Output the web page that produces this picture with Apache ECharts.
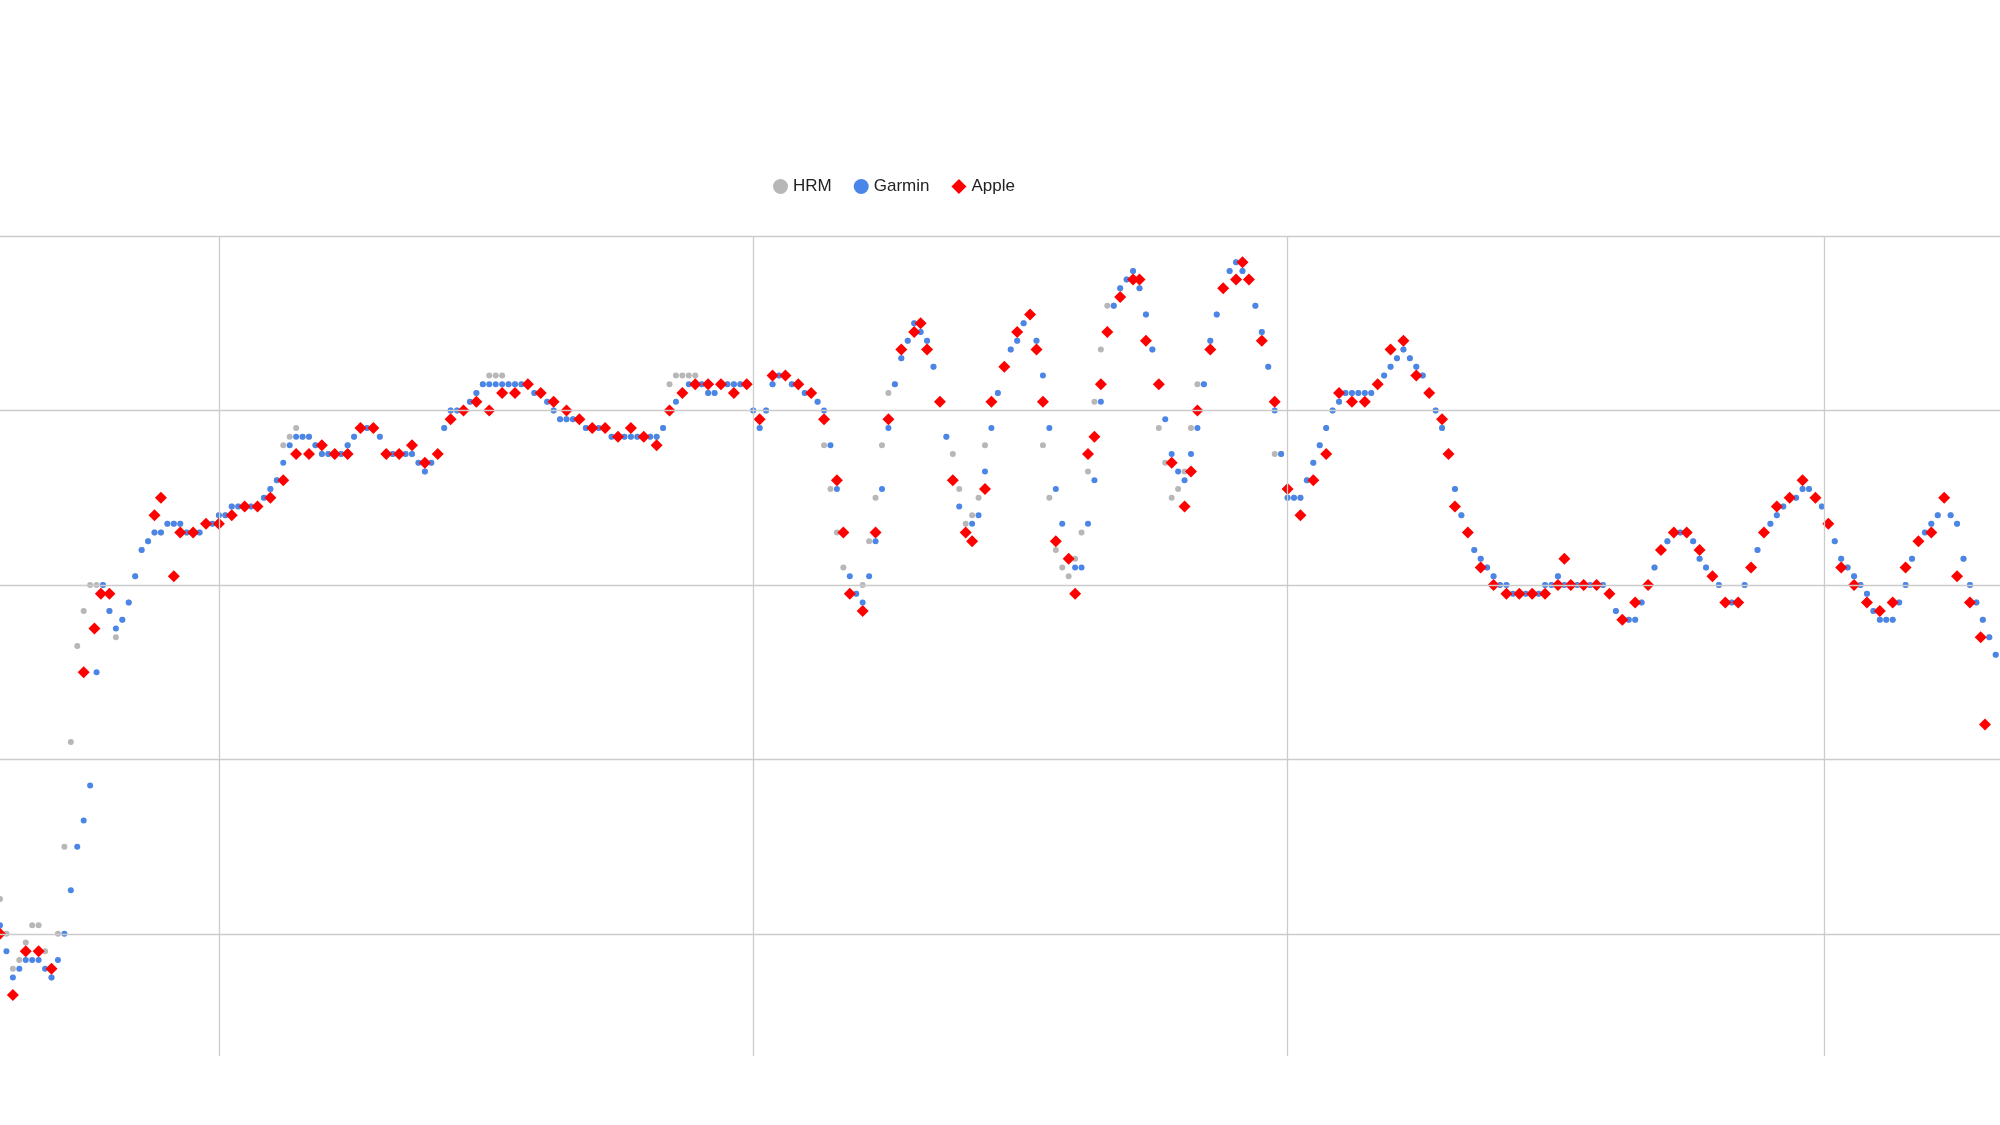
<!DOCTYPE html>
<html>
<head>
<meta charset="utf-8">
<script src="https://cdn.jsdelivr.net/npm/echarts@6/dist/echarts.min.js"></script>
<style>html,body{margin:0;background:#fff}#main{width:2000px;height:1125px}</style>
</head>
<body>
<div id="main"></div>
<script>
// sample step (seconds) for HRM and Garmin
const STEP = 3;
const hrm = [104,100,96,97,99,101,101,98,95,100,110,122,133,137,140,140,140,137,134,136,138,
  141,144,145,146,146,147,147,147,146,146,146,147,147,148,148,149,149,149,149,149,150,151,152,
  156,157,158,
  157,157,156,155,155,155,155,156,157,158,158,158,157,155,155,155,155,155,154,153,154,155,158,160,160,160,161,162,163,
  164,164,164,
  163,163,163,163,162,162,161,160,159,159,159,159,158,158,158,158,157,157,157,157,157,157,157,157,158,
  163,164,164,164,164,
  163,162,162,163,163,163,163,163,160,158,160,163,164,164,163,163,162,162,161,
  156,151,146,142,139,139,140,145,150,156,162,
  163,166,168,170,169,168,165,161,157,
  155,151,147,148,150,156,161,
  162,165,167,168,170,171,168,
  156,150,144,142,141,143,146,153,161,167,172,
  172,174,175,176,174,171,167,
  158,154,150,151,153,158,163,
  163,168,171,174,176,177,176,175,172,169,165,
  155,
  155,150,150,150,152,154,156,158,160,161,162,162,162,162,162,163,164,165,166,167,166,165,164,162,160,158,155,151,148,146,144,143,142,141,140,140,139,139,139,139,139,140,140,141,140,140,140,140,140,140,140,139,137,136,136,136,138,140,142,144,145,146,146,146,145,143,142,141,140,138,138,138,140,142,144,146,147,148,149,150,150,151,151,150,149,147,145,143,142,141,140,139,137,136,136,136,138,140,143,145,146,147,148,150,148,147,143,140,138,136,134,132];
const garmin = [101,98,95,96,97,97,97,96,95,97,100,105,110,113,117,130,140,137,135,136,138,141,144,145,146,146,147,147,147,146,146,146,147,147,148,148,149,149,149,149,149,150,151,152,154,156,157,157,157,156,155,155,155,155,156,157,158,158,158,157,155,155,155,155,155,154,153,154,155,158,160,160,160,161,162,163,163,163,163,163,163,163,163,162,162,161,160,159,159,159,159,158,158,158,158,157,157,157,157,157,157,157,157,158,160,161,162,163,163,163,162,162,163,163,163,163,163,160,158,160,163,164,164,163,163,162,162,161,160,156,151,146,141,139,138,141,145,151,158,163,166,168,170,169,168,165,161,157,152,149,146,147,148,153,158,162,165,167,168,170,171,168,164,158,151,147,143,142,142,147,152,161,169,172,174,175,176,174,171,167,163,159,155,153,152,155,158,163,168,171,174,176,177,176,175,172,169,165,160,155,150,150,150,152,154,156,158,160,161,162,162,162,162,162,163,164,165,166,167,166,165,164,162,160,158,155,151,148,146,144,143,142,141,140,140,139,139,139,139,139,140,140,141,140,140,140,140,140,140,140,139,137,136,136,136,138,140,142,144,145,146,146,146,145,143,142,141,140,138,138,138,140,142,144,146,147,148,149,150,150,151,151,150,149,147,145,143,142,141,140,139,137,136,136,136,138,140,143,145,146,147,148,150,148,147,143,140,138,136,134,132];
// [seconds, bpm]
const apple = [[0,100],[6,93],[12,98],[18,98],[24,96],[39,130],[44,135],[47,139],[51,139],[72,148],[75,150],[81,141],[84,146],[90,146],[96,147],[102,147],[108,148],[114,149],[120,149],[126,150],[132,152],[138,155],[144,155],[150,156],[156,155],[162,155],[168,158],[174,158],[180,155],[186,155],[192,156],[198,154],[204,155],[210,159],[216,160],[222,161],[228,160],[234,162],[240,162],[246,163],[252,162],[258,161],[264,160],[270,159],[276,158],[282,158],[288,157],[294,158],[300,157],[306,156],[312,160],[318,162],[324,163],[330,163],[336,163],[342,162],[348,163],[354,159],[360,164],[366,164],[372,163],[378,162],[384,159],[390,152],[393,146],[396,139],[402,137],[408,146],[414,159],[420,167],[426,169],[429,170],[432,167],[438,161],[444,152],[450,146],[453,145],[459,151],[462,161],[468,165],[474,169],[480,171],[483,167],[486,161],[492,145],[498,143],[501,139],[507,155],[510,157],[513,163],[516,169],[522,173],[528,175],[531,175],[534,168],[540,163],[546,154],[552,149],[555,153],[558,160],[564,167],[570,174],[576,175],[579,177],[582,175],[588,168],[594,161],[600,151],[606,148],[612,152],[618,155],[624,162],[630,161],[636,161],[642,163],[648,167],[654,168],[660,164],[666,162],[672,159],[675,155],[678,149],[684,146],[690,142],[696,140],[702,139],[708,139],[714,139],[720,139],[726,140],[729,143],[732,140],[738,140],[744,140],[750,139],[756,136],[762,138],[768,140],[774,144],[780,146],[786,146],[792,144],[798,141],[804,138],[810,138],[816,142],[822,146],[828,149],[834,150],[840,152],[846,150],[852,147],[858,142],[864,140],[870,138],[876,137],[882,138],[888,142],[894,145],[900,146],[906,150],[912,141],[918,138],[923,134],[925,124]];
const xLines = [102, 351, 600, 850];
const yLines = [100, 120, 140, 160, 180];

const toPairs = arr => arr.map((v, i) => [i * STEP, v]);
const gridColor = '#cccccc';

const chart = echarts.init(document.getElementById('main'));
chart.setOption({
  animation: false,
  legend: {
    top: 173, left: 768, itemGap: 22, itemWidth: 15, itemHeight: 15,
    textStyle: { fontSize: 17, color: '#222', fontFamily: 'Arial, Liberation Sans, sans-serif' },
    data: [
      { name: 'HRM', icon: 'circle' },
      { name: 'Garmin', icon: 'circle' },
      { name: 'Apple', icon: 'diamond' }
    ]
  },
  grid: { left: 0, right: 0, top: 236, bottom: 69 },
  xAxis: { type: 'value', min: 0, max: 932, show: false, splitLine: { show: false } },
  yAxis: { type: 'value', min: 86, max: 180, show: false, splitLine: { show: false } },
  series: [
    {
      name: 'HRM', type: 'scatter', symbol: 'circle', symbolSize: 6,
      itemStyle: { color: '#b7b7b7', opacity: 1 }, data: toPairs(hrm), z: 2,
      markLine: {
        silent: true, symbol: 'none', label: { show: false },
        lineStyle: { color: gridColor, type: 'solid', width: 1.3 },
        data: xLines.map(x => ({ xAxis: x })).concat(yLines.map(y => ({ yAxis: y })))
      }
    },
    {
      name: 'Garmin', type: 'scatter', symbol: 'circle', symbolSize: 6,
      itemStyle: { color: '#4a86e8', opacity: 1 }, data: toPairs(garmin), z: 3
    },
    {
      name: 'Apple', type: 'scatter', symbol: 'diamond', symbolSize: 12,
      itemStyle: { color: '#ff0000', opacity: 1 }, data: apple, z: 4
    }
  ]
});
</script>
</body>
</html>
